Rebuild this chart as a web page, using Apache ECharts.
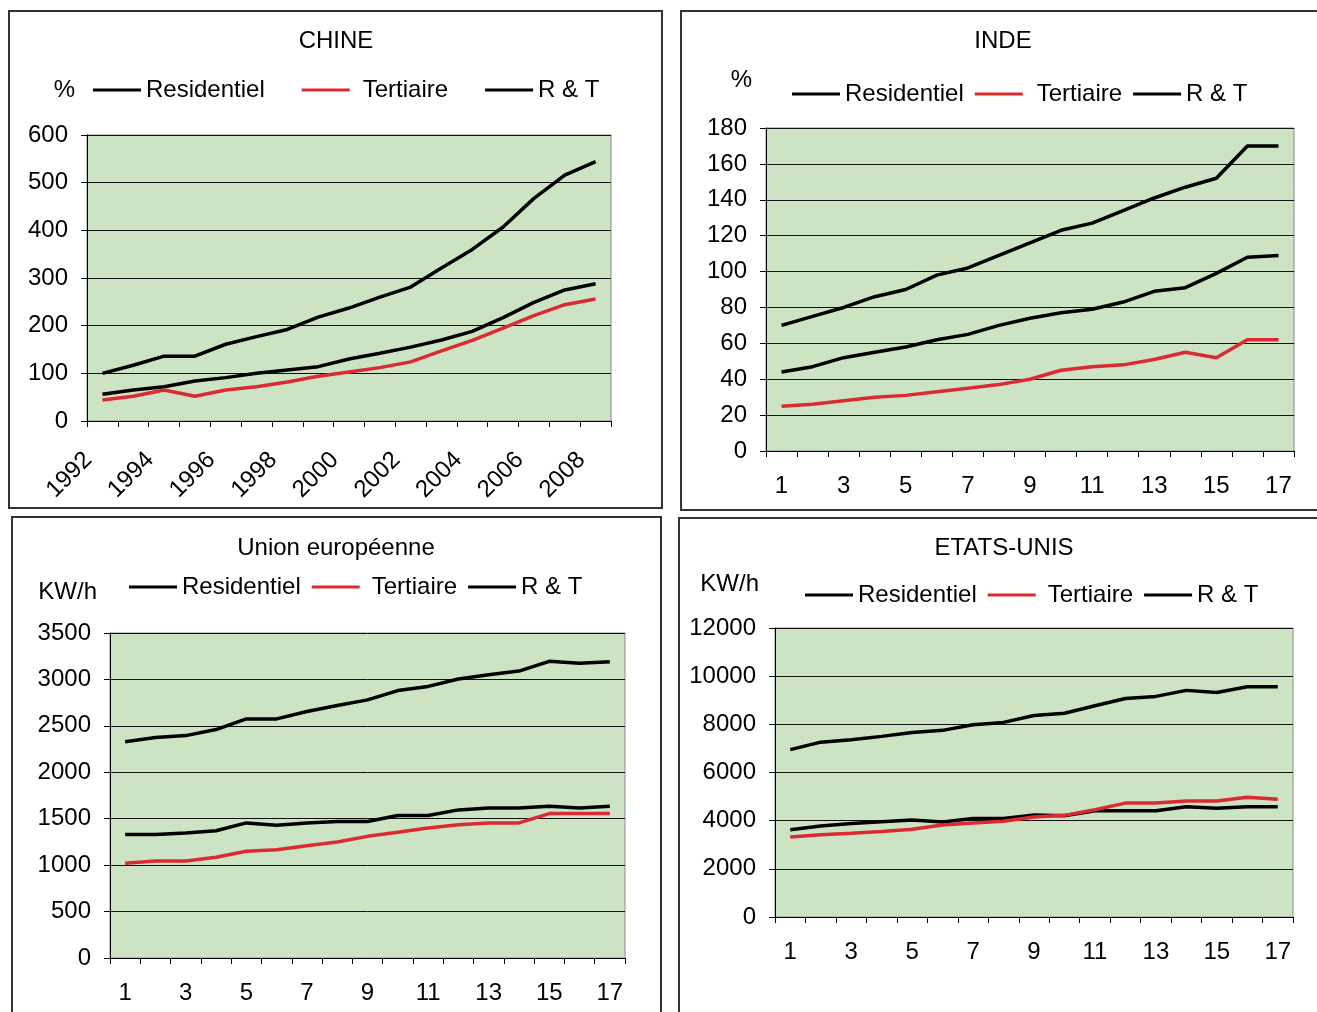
<!DOCTYPE html>
<html>
<head>
<meta charset="utf-8">
<script src="https://cdn.jsdelivr.net/npm/echarts@6/dist/echarts.min.js"></script>
<style>
  html, body { margin: 0; padding: 0; background: #fff; overflow: hidden; }
  .box { position: absolute; box-sizing: border-box; border: 2px solid #333; }
  #chart { position: absolute; left: 0; top: 0; width: 1317px; height: 1012px; }
</style>
</head>
<body>
<div class="box" style="left:8px;top:10px;width:655px;height:499px"></div>
<div class="box" style="left:680px;top:10px;width:700px;height:501px"></div>
<div class="box" style="left:11px;top:516px;width:651px;height:600px"></div>
<div class="box" style="left:678px;top:517px;width:700px;height:600px"></div>
<div id="chart"></div>
<script>
// categories
var yearCats = ['1992','1993','1994','1995','1996','1997','1998','1999','2000','2001','2002','2003','2004','2005','2006','2007','2008'];
var numCats = ['1','2','3','4','5','6','7','8','9','10','11','12','13','14','15','16','17'];

// CHINE (%)
var chineRes = [56, 65, 72, 84, 91, 100, 107, 114, 130, 142, 155, 170, 188, 217, 249, 275, 288];
var chineTer = [44, 52, 65, 52, 65, 72, 82, 94, 103, 112, 124, 147, 169, 195, 221, 244, 256];
var chineRT  = [100, 117, 136, 136, 161, 177, 192, 218, 237, 260, 281, 321, 360, 407, 467, 516, 544];

// INDE (%)
var indeRes = [44, 47, 52, 55, 58, 62, 65, 70, 74, 77, 79, 83, 89, 91, 99, 108, 109];
var indeTer = [25, 26, 28, 30, 31, 33, 35, 37, 40, 45, 47, 48, 51, 55, 52, 62, 62];
var indeRT  = [70, 75, 80, 86, 90, 98, 102, 109, 116, 123, 127, 134, 141, 147, 152, 170, 170];

// Union européenne (KW/h)
var ueRes = [1330, 1330, 1345, 1370, 1455, 1430, 1455, 1470, 1470, 1535, 1535, 1595, 1615, 1615, 1635, 1615, 1635];
var ueTer = [1020, 1045, 1045, 1085, 1150, 1165, 1210, 1250, 1310, 1355, 1400, 1435, 1455, 1455, 1555, 1555, 1555];
var ueRT  = [2330, 2375, 2395, 2460, 2575, 2575, 2655, 2720, 2780, 2880, 2925, 3005, 3050, 3090, 3195, 3175, 3190];

// ETATS-UNIS (KW/h)
var usRes = [3620, 3780, 3880, 3950, 4030, 3940, 4090, 4090, 4240, 4200, 4410, 4410, 4410, 4580, 4520, 4580, 4580];
var usTer = [3320, 3420, 3480, 3550, 3640, 3820, 3900, 3980, 4150, 4220, 4450, 4730, 4730, 4820, 4820, 4970, 4890];
var usRT  = [6950, 7260, 7360, 7500, 7660, 7750, 7980, 8080, 8370, 8460, 8770, 9070, 9160, 9410, 9320, 9560, 9560];

var FONT = 'Liberation Sans, Arial, sans-serif';
var BLACK = '#000000';
var RED = '#dc2a32';

var panels = [
  { title: 'CHINE', titleX: 331, titleY: 24, unit: '%', unitGap: 33, unitPad: 12,
    grid: { left: 87, top: 135, width: 524, height: 286 },
    legend: { left: 93, top: 78, itemGap: 37, terPad: 8 },
    cats: yearCats, rotate: true, max: 600, interval: 100,
    res: chineRes, ter: chineTer, rt: chineRT },
  { title: 'INDE', titleX: 998, titleY: 24, unit: '%', unitGap: 36, unitPad: 14,
    grid: { left: 766, top: 128, width: 528, height: 323 },
    legend: { left: 792, top: 82, itemGap: 11, terPad: 9 },
    cats: numCats, rotate: false, max: 180, interval: 20,
    res: indeRes, ter: indeTer, rt: indeRT },
  { title: 'Union européenne', titleX: 331, titleY: 531, unit: 'KW/h', unitGap: 29, unitPad: 13,
    grid: { left: 110, top: 633, width: 515, height: 325 },
    legend: { left: 129, top: 575, itemGap: 11, terPad: 7 },
    cats: numCats, rotate: false, max: 3500, interval: 500,
    res: ueRes, ter: ueTer, rt: ueRT },
  { title: 'ETATS-UNIS', titleX: 999, titleY: 531, unit: 'KW/h', unitGap: 32, unitPad: 16,
    grid: { left: 775, top: 628, width: 518, height: 289 },
    legend: { left: 805, top: 583, itemGap: 11, terPad: 7 },
    cats: numCats, rotate: false, max: 12000, interval: 2000,
    res: usRes, ter: usTer, rt: usRT }
];

var option = {
  animation: false,
  textStyle: { fontFamily: FONT },
  title: [], legend: [], grid: [], xAxis: [], yAxis: [], series: []
};

panels.forEach(function (p, i) {
  option.title.push({
    text: p.title, left: p.titleX, top: p.titleY, textAlign: 'center',
    textStyle: { fontFamily: FONT, fontSize: 24, fontWeight: 'normal', color: BLACK }
  });
  option.legend.push({
    left: p.legend.left, top: p.legend.top, padding: 0,
    itemWidth: 48, itemHeight: 3, itemGap: p.legend.itemGap, icon: 'rect',
    selectedMode: false,
    textStyle: { fontFamily: FONT, fontSize: 24, color: BLACK },
    data: [
      { name: 'Residentiel' },
      { name: 'Tertiaire', textStyle: { padding: [0, 0, 0, p.legend.terPad] } },
      { name: 'R & T' }
    ]
  });
  option.grid.push({
    left: p.grid.left, top: p.grid.top, width: p.grid.width, height: p.grid.height,
    show: true, backgroundColor: '#cce4c3', borderColor: '#8a8a8a', borderWidth: 1,
    outerBoundsMode: 'none'
  });
  option.xAxis.push({
    type: 'category', gridIndex: i, data: p.cats, boundaryGap: true,
    axisLine: { show: true, lineStyle: { color: BLACK, width: 1 } },
    axisTick: { show: true, interval: 0, length: 6, lineStyle: { color: BLACK } },
    axisLabel: p.rotate
      ? { interval: 1, rotate: 45, margin: 21, padding: [0, 20, 0, 0], fontFamily: FONT, fontSize: 24, color: BLACK }
      : { interval: 1, margin: 23, fontFamily: FONT, fontSize: 24, color: BLACK },
    splitLine: { show: false }
  });
  option.yAxis.push({
    type: 'value', gridIndex: i, min: 0, max: p.max, interval: p.interval,
    name: p.unit, nameLocation: 'end', nameGap: p.unitGap,
    nameTextStyle: { fontFamily: FONT, fontSize: 24, color: BLACK, align: 'right', verticalAlign: 'bottom', padding: [0, p.unitPad, 0, 0] },
    axisLine: { show: true, lineStyle: { color: BLACK, width: 1 } },
    axisTick: { show: true, length: 6, lineStyle: { color: BLACK } },
    axisLabel: {
      margin: 19, fontFamily: FONT, fontSize: 24, color: BLACK,
      formatter: function (v) { return String(v); }
    },
    splitLine: { show: true, lineStyle: { color: '#111', width: 1 } }
  });
  var mk = function (name, data, color) {
    return {
      name: name, type: 'line', xAxisIndex: i, yAxisIndex: i, data: data,
      symbol: 'none', color: color, lineStyle: { color: color, width: 3.5 }
    };
  };
  option.series.push(mk('Residentiel', p.res, BLACK));
  option.series.push(mk('Tertiaire', p.ter, RED));
  option.series.push(mk('R & T', p.rt, BLACK));
});

var chart = echarts.init(document.getElementById('chart'));
chart.setOption(option);
</script>
</body>
</html>
